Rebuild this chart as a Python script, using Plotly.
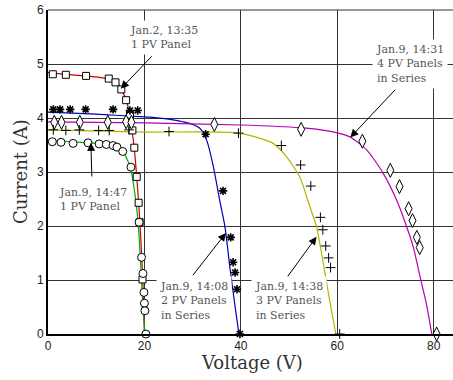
import plotly.graph_objects as go

# ---------------- data ----------------
# Model curves (lines)
red_v = [0, 5, 10, 13, 14.5, 15.2, 16.3, 17.0, 17.5, 17.9, 18.4, 18.8, 19.1, 19.4, 19.7, 20.0]
red_i = [4.84, 4.80, 4.76, 4.71, 4.64, 4.53, 4.32, 4.02, 3.72, 3.44, 2.91, 2.43, 2.0, 1.5, 0.9, 0.0]

green_v = [0, 5, 10, 13, 15.4, 16.3, 17.1, 17.7, 18.2, 18.7, 19.1, 19.5, 19.8, 20.1]
green_i = [3.59, 3.56, 3.53, 3.48, 3.41, 3.25, 3.10, 2.79, 2.48, 2.05, 1.5, 0.81, 0.4, 0.0]

blue_v = [0, 10, 20, 25, 28, 29.4, 31.5, 32.9, 34.3, 35.6, 36.7, 37.7, 38.8, 39.6]
blue_i = [4.11, 4.07, 4.02, 3.98, 3.93, 3.90, 3.81, 3.59, 3.10, 2.48, 1.99, 1.25, 0.51, 0.0]

yellow_v = [0, 20, 39.8, 46.7, 49.5, 52.2, 54.3, 55.7, 57.1, 58.4, 59.7]
yellow_i = [3.78, 3.74, 3.72, 3.53, 3.28, 2.91, 2.36, 1.99, 1.31, 0.63, 0.0]

purple_v = [0, 20, 40, 52.2, 58, 62.6, 66.1, 69.5, 72.3, 74.3, 75.8, 77.2, 78.5, 79.6]
purple_i = [3.93, 3.91, 3.87, 3.82, 3.76, 3.65, 3.41, 2.98, 2.48, 2.01, 1.6, 1.05, 0.55, 0.0]

# Measurements (markers)
sq_v = [1.0, 3.7, 7.9, 12.6, 14.0, 15.2, 16.2, 17.0, 17.5, 17.9, 18.4, 18.8, 19.0, 19.6]
sq_i = [4.81, 4.80, 4.78, 4.73, 4.66, 4.53, 4.33, 4.06, 3.77, 3.45, 2.91, 2.43, 2.07, 1.01]

circ_v = [0.9, 2.7, 5.2, 8.3, 10.6, 12.1, 13.5, 14.3, 15.5, 17.2, 18.9, 19.4, 19.7, 19.9, 20.0, 20.1, 20.3]
circ_i = [3.56, 3.55, 3.53, 3.54, 3.52, 3.51, 3.49, 3.46, 3.38, 3.09, 2.07, 1.42, 1.12, 0.77, 0.57, 0.43, 0.0]

star_v = [1.1, 2.5, 4.6, 7.8, 13.5, 17.0, 18.6, 32.7, 36.3, 37.9, 38.4, 38.8, 39.2, 39.8]
star_i = [4.16, 4.16, 4.16, 4.16, 4.16, 4.14, 4.14, 3.70, 2.65, 1.79, 1.33, 1.14, 0.83, 0.0]

plus_v = [1.1, 3.7, 6.5, 10.5, 12.7, 16.8, 25.1, 39.5, 48.4, 52.4, 54.5, 56.5, 57.0, 57.6, 58.2, 58.6, 60.5]
plus_i = [3.78, 3.77, 3.78, 3.77, 3.77, 3.78, 3.75, 3.72, 3.49, 3.13, 2.74, 2.16, 1.93, 1.63, 1.41, 1.23, 0.0]

dia_v = [1.3, 2.8, 6.6, 12.4, 16.2, 17.3, 34.5, 52.5, 65.2, 71.0, 72.9, 74.8, 75.6, 76.5, 77.1, 80.6]
dia_i = [3.92, 3.92, 3.92, 3.92, 3.93, 3.92, 3.88, 3.79, 3.57, 3.03, 2.73, 2.32, 2.10, 1.79, 1.60, 0.0]

x_ticks = [0, 20, 40, 60, 80]
y_ticks = [0, 1, 2, 3, 4, 5, 6]
x_title = "Voltage (V)"
y_title = "Current (A)"

labels = [
    "Jan.2, 13:35<br>1 PV Panel",
    "Jan.9, 14:47<br>1 PV Panel",
    "Jan.9, 14:08<br>2 PV Panels<br>in Series",
    "Jan.9, 14:38<br>3 PV Panels<br>in Series",
    "Jan.9, 14:31<br>4 PV Panels<br>in Series",
]
# text anchor (left, middle), arrow tail, arrow head (data coords)
label_pos = [(16.2, 5.49), (1.45, 2.50), (22.3, 0.61), (42.0, 0.61), (67.3, 5.0)]
arrow_tail = [(21.8, 5.17), (9.1, 2.89), (29.8, 1.06), (49.5, 1.04), (72.3, 4.55)]
arrow_head = [(15.1, 4.54), (8.9, 3.54), (36.9, 1.87), (55.7, 1.80), (62.7, 3.64)]

# ---------------- figure ----------------
fig = go.Figure()

line_sets = [
    (red_v, red_i, "#cc0000"),
    (green_v, green_i, "#00aa00"),
    (blue_v, blue_i, "#0000b4"),
    (yellow_v, yellow_i, "#b4b400"),
    (purple_v, purple_i, "#b400b4"),
]
for v, i, c in line_sets:
    fig.add_trace(go.Scatter(x=v, y=i, mode="lines", line=dict(color=c, width=1.2, shape="spline", smoothing=0.6),
                             showlegend=False, hoverinfo="skip"))

marker_sets = [
    (sq_v, sq_i, "square", 7, "white", 1),
    (circ_v, circ_i, "circle", 8, "white", 1),
    (dia_v, dia_i, "diamond-tall", 10, "white", 1),
    (star_v, star_i, "asterisk-open", 7, "black", 1.6),
    (plus_v, plus_i, "cross-thin-open", 7, "black", 1),
]
for v, i, sym, sz, fill, lw in marker_sets:
    fig.add_trace(go.Scatter(x=v, y=i, mode="markers",
                             marker=dict(symbol=sym, size=sz, color=fill, line=dict(color="black", width=lw)),
                             showlegend=False, hoverinfo="skip", cliponaxis=False))

ann_font = dict(family="DejaVu Serif", size=11, color="#555555")
for txt, (tx, ty), (ax, ay), (hx, hy) in zip(labels, label_pos, arrow_tail, arrow_head):
    fig.add_annotation(x=tx, y=ty, xref="x", yref="y", text=txt, showarrow=False,
                       xanchor="left", yanchor="middle", align="left", font=ann_font,
                       bgcolor="white", borderpad=3)
    fig.add_annotation(x=hx, y=hy, ax=ax, ay=ay, xref="x", yref="y", axref="x", ayref="y",
                       text="", showarrow=True, arrowhead=2, arrowsize=1.6, arrowwidth=1,
                       arrowcolor="black")

title_font = dict(family="DejaVu Serif", size=18, color="#333333")
fig.add_annotation(x=0.504, y=-0.0895, xref="paper", yref="paper", text=x_title, showarrow=False,
                   xanchor="center", yanchor="middle", font=title_font)
fig.add_annotation(x=-0.069, y=0.5, xref="paper", yref="paper", text=y_title, showarrow=False,
                   xanchor="center", yanchor="middle", textangle=-90, font=title_font)

fig.add_shape(type="line", xref="paper", yref="paper", x0=0, x1=1, y0=1, y1=1,
              line=dict(color="#333333", width=1))

fig.update_layout(
    width=453, height=380,
    margin=dict(l=48, r=0, t=10, b=46, autoexpand=False),
    plot_bgcolor="white", paper_bgcolor="white",
    xaxis=dict(range=[0, 84], tickvals=x_ticks, showgrid=True, gridcolor="#333333", gridwidth=1,
               zeroline=False, showline=True, linecolor="black", linewidth=2, ticks="", automargin=False,
               tickfont=dict(family="Liberation Sans", size=12, color="#222222")),
    yaxis=dict(range=[0, 6], tickvals=y_ticks, showgrid=True, gridcolor="#333333", gridwidth=1,
               zeroline=False, showline=True, linecolor="black", linewidth=2, ticks="", automargin=False,
               tickfont=dict(family="Liberation Sans", size=12, color="#222222")),
)

fig.write_html("out.html", config={"displayModeBar": False},
               post_script="document.body.style.margin='0';document.body.style.overflow='hidden';")
